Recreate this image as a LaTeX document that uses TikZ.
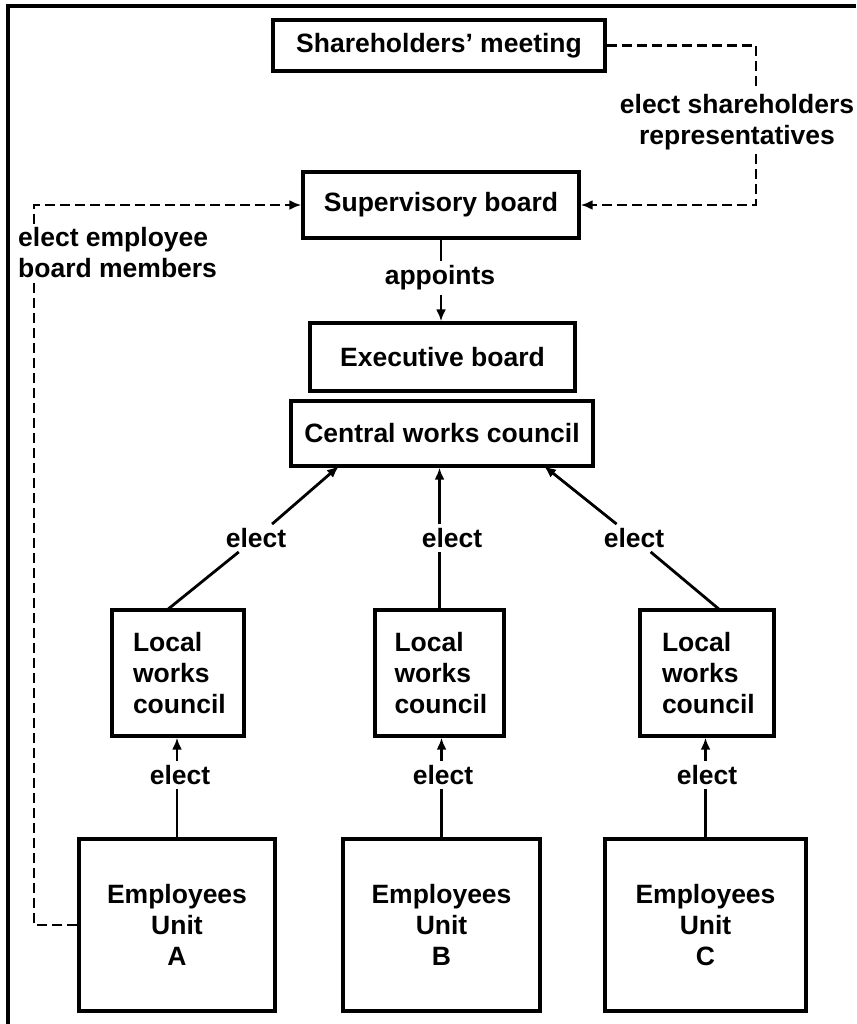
\documentclass[tikz,border=0pt]{standalone}
\usepackage{fontspec}
\setmainfont{Liberation Sans}
\usetikzlibrary{arrows.meta}
\begin{document}
\begin{tikzpicture}[x=1pt,y=-1pt,
  box/.style={draw,line width=3.4pt,inner sep=0pt,align=center},
  lbl/.style={inner sep=4pt,align=center},
  conn/.style={line width=2.8pt},
  dsh/.style={line width=2.5pt,dash pattern=on 10pt off 5pt},
  tip/.style={-{Latex[length=12pt,width=10pt]}},
  font=\fontsize{26.5}{31}\selectfont\bfseries]
\useasboundingbox (0,0) rectangle (856,1024);
\draw[line width=3.5pt] (8,1024) -- (8,6) -- (856,6);

% boxes
\node[box,minimum width=332pt,minimum height=51pt] (sh) at (439,45.5) {Shareholders’ meeting};
\node[box,minimum width=276pt,minimum height=66pt] (sup) at (441,205) {Supervisory board};
\node[box,minimum width=265pt,minimum height=68pt] (exe) at (442.5,357) {Executive board};
\node[box,minimum width=302pt,minimum height=65pt] (cwc) at (442,433.5) {Central works council};

\node[box,minimum width=132pt,minimum height=126pt,text width=90pt,align=left] (L1) at (178,673) {Local\\works\\council};
\node[box,minimum width=129pt,minimum height=126pt,text width=90pt,align=left] (L2) at (439.5,673) {Local\\works\\council};
\node[box,minimum width=134pt,minimum height=126pt,text width=90pt,align=left] (L3) at (707,673) {Local\\works\\council};

\node[box,minimum width=196pt,minimum height=172pt,text depth=-6pt] (E1) at (177,925) {Employees\\Unit\\A};
\node[box,minimum width=197pt,minimum height=172pt,text depth=-6pt] (E2) at (441.5,925) {Employees\\Unit\\B};
\node[box,minimum width=201pt,minimum height=172pt,text depth=-6pt] (E3) at (705.5,925) {Employees\\Unit\\C};

% labels
\node[lbl] (esr) at (737,122) {elect shareholders\\representatives};
\node[lbl,anchor=west,align=left] (eeb) at (14,253) {elect employee\\board members};
\node[lbl] (ap) at (440,278) {appoints};
\node[lbl] (el1) at (256,538) {elect};
\node[lbl] (el2) at (452,538) {elect};
\node[lbl] (el3) at (634,538) {elect};
\node[lbl] (le1) at (180,775) {elect};
\node[lbl] (le2) at (443,775) {elect};
\node[lbl] (le3) at (707,775) {elect};

% dashed: shareholders -> supervisory
\coordinate (k1) at (756,45.5);
\draw[dsh] (sh.east) -- (k1) -- (k1 |- esr.north);
\draw[dsh,tip] (k1 |- esr.south) -- (k1 |- sup.east) -- (sup.east);

% dashed: employees A -> supervisory
\coordinate (k5) at (34,205);
\draw[dsh] (E1.west) -- (E1.west -| k5) -- (k5 |- eeb.south);
\draw[dsh,tip] (k5 |- eeb.north) -- (k5) -- (sup.west);

% appoints
\draw[conn] (sup.south) -- (ap.north -| sup.south);
\draw[conn,tip] (ap.south -| sup.south) -- (exe.north -| sup.south);

% local -> central
\coordinate (c1) at (339,466);
\coordinate (c3) at (544,466);
\coordinate (t1) at (167,610);
\coordinate (t3) at (720,610);
\draw[conn] (t1) -- (el1);
\draw[conn,tip] (el1) -- (c1);
\draw[conn] (L2.north) -- (L2.north |- el2.south);
\draw[conn,tip] (L2.north |- el2.north) -- (L2.north |- cwc.south);
\draw[conn] (t3) -- (el3);
\draw[conn,tip] (el3) -- (c3);

% employees -> local
\draw[conn] (E1.north) -- (E1.north |- le1.south);
\draw[conn,tip] (E1.north |- le1.north) -- (E1.north |- L1.south);
\draw[conn] (E2.north) -- (E2.north |- le2.south);
\draw[conn,tip] (E2.north |- le2.north) -- (E2.north |- L2.south);
\draw[conn] (E3.north) -- (E3.north |- le3.south);
\draw[conn,tip] (E3.north |- le3.north) -- (E3.north |- L3.south);
\end{tikzpicture}
\end{document}
